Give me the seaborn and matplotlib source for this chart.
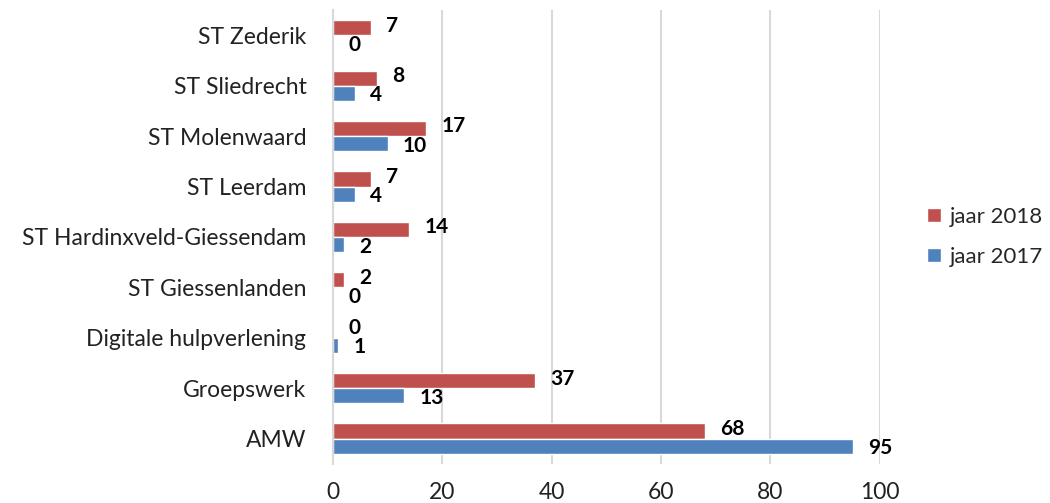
import matplotlib
matplotlib.use("Agg")
import matplotlib.pyplot as plt
import seaborn as sns
import pandas as pd

categories = ["ST Zederik", "ST Sliedrecht", "ST Molenwaard", "ST Leerdam",
              "ST Hardinxveld-Giessendam", "ST Giessenlanden",
              "Digitale hulpverlening", "Groepswerk", "AMW"]
jaar_2018 = [7, 8, 17, 7, 14, 2, 0, 37, 68]
jaar_2017 = [0, 4, 10, 4, 2, 0, 1, 13, 95]
series = ["jaar 2018", "jaar 2017"]
x_ticks = [0, 20, 40, 60, 80, 100]

df = pd.DataFrame({
    "categorie": categories * 2,
    "aantal": jaar_2018 + jaar_2017,
    "jaar": [series[0]] * len(categories) + [series[1]] * len(categories),
})

sns.set_style("white")
plt.rcParams["font.family"] = ["Lato", "DejaVu Sans"]

fig = plt.figure(figsize=(10.5, 5.03), dpi=100)
ax = fig.add_axes([0.317, 0.078, 0.521, 0.902])

palette = {"jaar 2018": "#C0504D", "jaar 2017": "#4F81BD"}
sns.barplot(data=df, y="categorie", x="aantal", hue="jaar", hue_order=series,
            order=categories, palette=palette, orient="h", width=0.6,
            saturation=1, ax=ax)

# red labels sit a touch high, blue a touch low, like the original
for container, dy in zip(ax.containers, [-1.5, 1.5]):
    labels = ax.bar_label(container, padding=11, fontsize=15, fontweight="bold", color="black")
    for t in labels:
        x0, y0 = t.xyann
        t.xyann = (x0, y0 - dy)

ax.set_xlim(0, 100)
ax.set_xticks(x_ticks)
ax.xaxis.grid(True, color="#D9D9D9", linewidth=1.5)
ax.set_axisbelow(True)
for side in ["top", "right", "bottom"]:
    ax.spines[side].set_visible(False)
ax.spines["left"].set_color("#D9D9D9")
ax.spines["left"].set_linewidth(1.5)
ax.tick_params(axis="both", length=0, labelsize=16.5, colors="#222222")
ax.tick_params(axis="x", pad=13)
ax.tick_params(axis="y", pad=19)
ax.set_xlabel("")
ax.set_ylabel("")

ax.legend(loc="center left", bbox_to_anchor=(1.05, 0.5), frameon=False,
          fontsize=16, handlelength=0.6, handleheight=0.6, labelspacing=0.9,
          handletextpad=0.4)

fig.savefig("out.png", dpi=100)
